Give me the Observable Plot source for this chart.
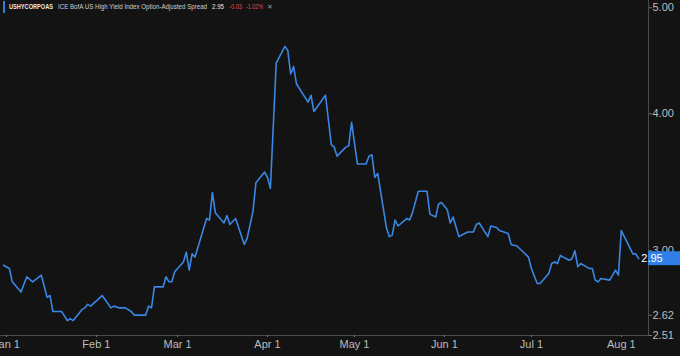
<!DOCTYPE html>
<html><head><meta charset="utf-8">
<script src="https://cdn.jsdelivr.net/npm/d3@7"></script>
<script src="https://cdn.jsdelivr.net/npm/@observablehq/plot@0.6"></script>
<style>
html,body{margin:0;padding:0;background:#131313;}
#wrap{position:relative;width:680px;height:356px;overflow:hidden;background:#131313;font-family:"Liberation Sans",Arial,sans-serif;}
#hdr{position:absolute;left:0;top:0;width:320px;height:14px;font-size:7px;white-space:nowrap;z-index:2;}
#hdr span{position:absolute;top:3px;line-height:7px;transform-origin:0 50%;}
#bar{position:absolute;left:3px;top:1px;width:1.5px;height:12px;background:#2f7fe6;}
</style></head><body>
<div id="wrap">
  <div id="hdr">
    <div id="bar"></div>
    <span id="sym" data-w="44" style="left:9px;color:#e8e8e8;font-weight:bold"></span>
    <span id="nm" data-w="149" style="left:58px;color:#d0d0d0"></span>
    <span id="lst" data-w="12" style="left:212px;color:#e8e8e8"></span>
    <span id="chg" data-w="13" style="left:229px;color:#e5484d"></span>
    <span id="pct" data-w="17" style="left:246px;color:#e5484d"></span>
    <span style="left:267px;color:#9a9a9a;font-size:7px">✕</span>
  </div>
  <div id="chart"></div>
</div>
<script>
const symbol = "USHYCORPOAS";
const seriesName = "ICE BofA US High Yield Index Option-Adjusted Spread";
const lastLabel = "2.95";
const changeLabel = "-0.03";
const changePctLabel = "-1.02%";

const dates = ["2024-12-31","2025-01-02","2025-01-03","2025-01-06","2025-01-08","2025-01-10","2025-01-13","2025-01-15","2025-01-16","2025-01-17",
"2025-01-20","2025-01-22","2025-01-23","2025-01-24","2025-01-27","2025-01-28","2025-01-29","2025-01-30","2025-02-03","2025-02-06",
"2025-02-07","2025-02-09","2025-02-11","2025-02-13","2025-02-14","2025-02-18","2025-02-19","2025-02-20","2025-02-21","2025-02-24",
"2025-02-25","2025-02-26","2025-02-27","2025-02-28","2025-03-03","2025-03-04","2025-03-05","2025-03-06","2025-03-07","2025-03-11",
"2025-03-12","2025-03-13","2025-03-14","2025-03-17","2025-03-18","2025-03-19","2025-03-21","2025-03-24","2025-03-25","2025-03-27",
"2025-03-28","2025-03-31","2025-04-01","2025-04-02","2025-04-04","2025-04-07","2025-04-08","2025-04-09","2025-04-10","2025-04-11",
"2025-04-15","2025-04-16","2025-04-17","2025-04-21","2025-04-23","2025-04-24","2025-04-25","2025-04-28","2025-04-29","2025-04-30",
"2025-05-02","2025-05-05","2025-05-06","2025-05-07","2025-05-08","2025-05-09","2025-05-12","2025-05-13","2025-05-14","2025-05-15",
"2025-05-16","2025-05-19","2025-05-20","2025-05-21","2025-05-23","2025-05-26","2025-05-27","2025-05-29","2025-05-30","2025-05-31",
"2025-06-02","2025-06-03","2025-06-04","2025-06-06","2025-06-08","2025-06-09","2025-06-11","2025-06-12","2025-06-13","2025-06-16",
"2025-06-17","2025-06-19","2025-06-20","2025-06-23","2025-06-24","2025-06-26","2025-06-30","2025-07-01","2025-07-03","2025-07-04",
"2025-07-07","2025-07-08","2025-07-09","2025-07-10","2025-07-11","2025-07-12","2025-07-14","2025-07-15","2025-07-16","2025-07-17",
"2025-07-18","2025-07-20","2025-07-21","2025-07-22","2025-07-23","2025-07-24","2025-07-25","2025-07-28","2025-07-30","2025-07-31",
"2025-08-01","2025-08-05","2025-08-06","2025-08-07"];

const spreads = [2.91,2.89,2.81,2.75,2.84,2.81,2.85,2.72,2.73,2.64,
2.64,2.59,2.60,2.59,2.65,2.66,2.68,2.67,2.73,2.66,
2.67,2.66,2.66,2.64,2.62,2.62,2.67,2.66,2.78,2.78,
2.84,2.81,2.81,2.87,2.93,2.99,2.88,2.98,2.96,3.21,
3.20,3.39,3.25,3.18,3.23,3.17,3.21,3.04,3.08,3.26,
3.46,3.54,3.50,3.42,4.45,4.61,4.57,4.35,4.42,4.26,
4.10,4.16,4.02,4.16,3.75,3.73,3.66,3.73,3.74,3.93,
3.60,3.60,3.66,3.67,3.50,3.53,3.15,3.09,3.10,3.20,
3.16,3.21,3.20,3.25,3.40,3.40,3.24,3.22,3.31,3.32,
3.27,3.18,3.22,3.09,3.11,3.12,3.12,3.17,3.18,3.09,
3.16,3.15,3.13,3.11,3.04,3.03,2.96,2.89,2.80,2.80,
2.86,2.92,2.93,2.92,2.97,2.96,2.94,2.95,3.00,2.90,
2.92,2.90,2.89,2.89,2.82,2.81,2.83,2.82,2.88,2.85,
3.13,2.98,2.98,2.95];

const monthTicks = ["2025-01-01","2025-02-01","2025-03-01","2025-04-01","2025-05-01","2025-06-01","2025-07-01","2025-08-01"];
const yTicks = [2.51, 2.62, 3.00, 4.00, 5.00];
const xDomain = ["2024-12-29T22:20:00Z","2025-08-10T09:07:00Z"];
const yDomain = [2.51, 5.00];

document.getElementById("sym").textContent = symbol;
document.getElementById("nm").textContent = seriesName;
document.getElementById("lst").textContent = lastLabel;
document.getElementById("chg").textContent = changeLabel;
document.getElementById("pct").textContent = changePctLabel;
document.querySelectorAll("#hdr span[data-w]").forEach(s => {
  const w = s.getBoundingClientRect().width;
  const target = +s.dataset.w;
  if (w > 0) s.style.transform = `scaleX(${target / w})`;
});

const data = dates.map((d, i) => ({date: new Date(d + "T00:00:00Z"), value: spreads[i]}));
const last = data[data.length - 1];

const FONT = "'Liberation Sans', Arial, sans-serif";

function badge(index, scales, values, dims) {
  const y = scales.y(last.value);
  const x0 = dims.width - dims.marginRight;
  const g = d3.create("svg:g");
  g.append("rect").attr("x", x0).attr("y", y - 7).attr("width", dims.marginRight).attr("height", 14).attr("fill", "#2f7fe6");
  g.append("text").attr("x", x0 + 4).attr("y", y).attr("dy", "0.35em")
    .attr("fill", "#ffffff").attr("font-size", 11).attr("font-family", FONT)
    .text(d3.format(".2f")(last.value));
  return g.node();
}

const plot = Plot.plot({
  width: 680, height: 356,
  marginLeft: 0, marginRight: 32, marginTop: 0, marginBottom: 21,
  style: {background: "transparent", color: "#bdbdbd", fontFamily: FONT, fontSize: "11px"},
  x: {type: "utc", domain: xDomain.map(d => new Date(d))},
  y: {type: "log", domain: yDomain, range: [335, 7.3]},
  marks: [
    Plot.frame({anchor: "bottom", stroke: "#4a4a4a"}),
    Plot.frame({anchor: "right", stroke: "#4a4a4a"}),
    Plot.axisX({ticks: monthTicks.map(d => new Date(d + "T00:00:00Z")), tickFormat: d3.utcFormat("%b %-d"),
      tickSize: 2, tickPadding: 3, label: null, stroke: "#777", fill: "#bdbdbd"}),
    Plot.axisY({anchor: "right", ticks: yTicks, tickFormat: d3.format(".2f"),
      tickSize: 3, tickPadding: 1, label: null, stroke: "#777", fill: "#bdbdbd"}),
    Plot.line(data, {x: "date", y: "value", stroke: "#3a87e3", strokeWidth: 1.6}),
    badge
  ]
});
document.getElementById("chart").appendChild(plot);
</script>
</body></html>
